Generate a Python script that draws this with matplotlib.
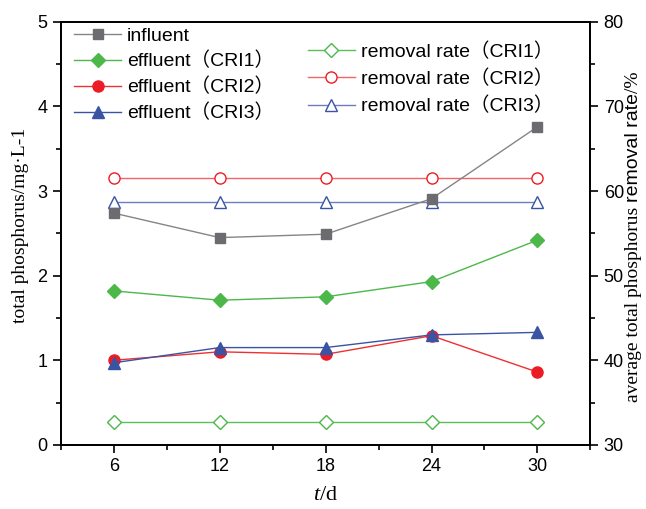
import matplotlib.pyplot as plt
from matplotlib.font_manager import FontProperties
from matplotlib.ticker import MultipleLocator

days = [6, 12, 18, 24, 30]
influent = [2.74, 2.45, 2.49, 2.91, 3.76]
eff_cri1 = [1.82, 1.71, 1.75, 1.93, 2.42]
eff_cri2 = [1.00, 1.10, 1.07, 1.29, 0.86]
eff_cri3 = [0.97, 1.15, 1.15, 1.30, 1.33]
rate_cri1 = [32.7, 32.7, 32.7, 32.7, 32.7]
rate_cri2 = [61.6, 61.6, 61.6, 61.6, 61.6]
rate_cri3 = [58.7, 58.7, 58.7, 58.7, 58.7]

sans = ['Liberation Sans', 'Noto Sans CJK SC']
serif = ['Liberation Serif', 'DejaVu Serif']
plt.rcParams['font.family'] = sans
plt.rcParams['font.size'] = 13
plt.rcParams['mathtext.fontset'] = 'custom'
plt.rcParams['mathtext.it'] = 'Liberation Serif:italic'
plt.rcParams['mathtext.rm'] = 'Liberation Serif'

fig = plt.figure(figsize=(6.46, 5.09), dpi=100)
ax = fig.add_axes([0.094, 0.126, 0.82, 0.831])
ax2 = ax.twinx()

h1 = ax.plot(days, influent, color='#858585', lw=1, marker='s', ms=7, mfc='#6b6b70', mec='#6b6b70', label='influent')
h2 = ax.plot(days, eff_cri1, color='#4db84a', lw=1, marker='D', ms=7, mfc='#4db84a', mec='#4db84a', label='effluent（CRI1）')
h3 = ax.plot(days, eff_cri2, color='#ee3030', lw=1, marker='o', ms=8, mfc='#ec1c24', mec='#ec1c24', label='effluent（CRI2）')
h4 = ax.plot(days, eff_cri3, color='#3a54a4', lw=1, marker='^', ms=8, mfc='#3a54a4', mec='#3a54a4', label='effluent（CRI3）')

r1 = ax2.plot(days, rate_cri1, color='#5cbf55', lw=1, marker='D', ms=7, mfc='white', mec='#4db84a', label='removal rate（CRI1）')
r2 = ax2.plot(days, rate_cri2, color='#f06565', lw=1, marker='o', ms=8, mfc='white', mec='#ec1c24', label='removal rate（CRI2）')
r3 = ax2.plot(days, rate_cri3, color='#6a7fc2', lw=1, marker='^', ms=8, mfc='white', mec='#3a54a4', label='removal rate（CRI3）')

ax.set_xlim(3, 33)
ax.set_ylim(0, 5)
ax2.set_ylim(30, 80)
ax.set_xticks(days)
ax.xaxis.set_minor_locator(MultipleLocator(3))
ax.yaxis.set_major_locator(MultipleLocator(1))
ax.yaxis.set_minor_locator(MultipleLocator(0.5))
ax2.yaxis.set_major_locator(MultipleLocator(10))
ax2.yaxis.set_minor_locator(MultipleLocator(5))
for a in (ax, ax2):
    a.tick_params(which='major', length=6, width=1.2, labelsize=13)
    a.tick_params(which='minor', length=3.5, width=1.2)
    for s in a.spines.values():
        s.set_linewidth(1.3)

ax.set_xlabel('$t$/d', family=serif, fontsize=16, labelpad=8)
fig.text(0.031, 1 - 225 / 509, 'total phosphorus/mg·L-1', family=serif, fontsize=14,
         rotation=90, ha='center', va='center')

# right label: serif part + sans part + serif part, stacked bottom to top
fig.canvas.draw()
rend = fig.canvas.get_renderer()
y0 = 1 - 402 / 509
for txt, fam in [('average total phosphorus ', serif), ('removal rate', sans), ('/%', serif)]:
    t = fig.text(0.98, y0, txt, family=fam, fontsize=14, rotation=90,
                 ha='center', va='bottom')
    bb = t.get_window_extent(rend)
    y0 += bb.height / fig.bbox.height

leg_font = FontProperties(family=sans, size=14)
ax.legend(handles=h1 + h2 + h3 + h4, loc='upper left', bbox_to_anchor=(0.0, 1.02),
          frameon=False, prop=leg_font, handlelength=2.4, handletextpad=0.3,
          labelspacing=0.38, borderaxespad=0.3)
ax2.legend(handles=r1 + r2 + r3, loc='upper left', bbox_to_anchor=(0.434, 0.993),
           frameon=False, prop=leg_font, handlelength=2.4, handletextpad=0.3,
           labelspacing=0.45)
ax.set_zorder(ax2.get_zorder() + 1)
ax.patch.set_visible(False)

fig.savefig('out.png', dpi=100)
